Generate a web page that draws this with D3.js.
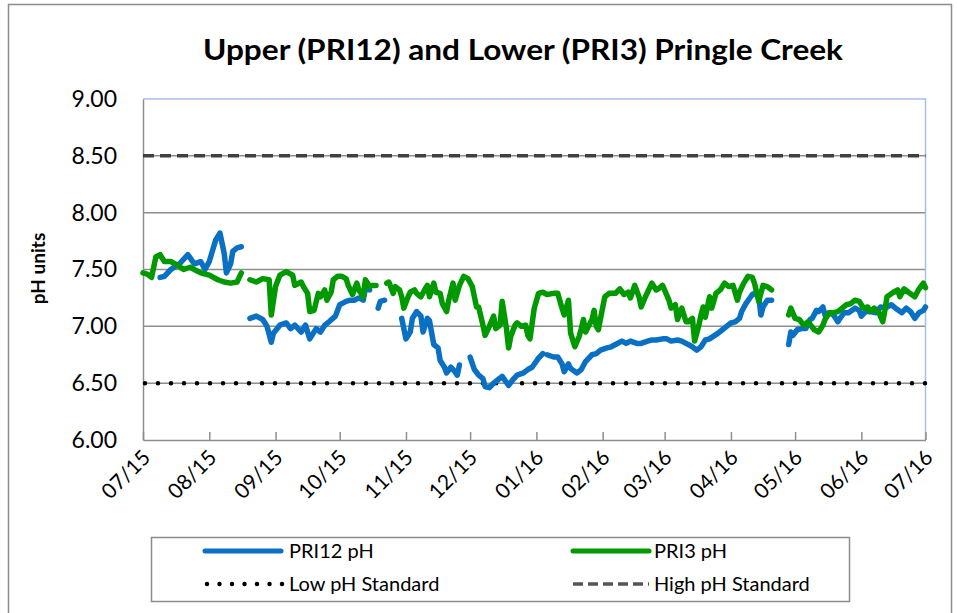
<!DOCTYPE html>
<html>
<head>
<meta charset="utf-8">
<script src="https://cdn.jsdelivr.net/npm/d3@7"></script>
<style>
  html, body { margin: 0; padding: 0; background: #fff; }
  svg { display: block; }
  text { font-family: Lato, "Open Sans", sans-serif; fill: #000; }
</style>
</head>
<body>
<svg id="chart" width="957" height="613"></svg>
<script>
// Daily pH readings, Upper (PRI12) and Lower (PRI3) Pringle Creek, Jul 2015 - Jul 2016.
// null marks a break in the record.
const pri12Dates = [
  "2015-07-09","2015-07-11","2015-07-14","2015-07-18","2015-07-22","2015-07-25","2015-07-28","2015-07-30",
  "2015-08-01","2015-08-04","2015-08-06","2015-08-08","2015-08-09","2015-08-11","2015-08-12","2015-08-14","2015-08-16",
  "2015-08-18",
  "2015-08-20","2015-08-23","2015-08-26","2015-08-28","2015-08-30","2015-08-31",
  "2015-09-03","2015-09-06","2015-09-08","2015-09-10","2015-09-13","2015-09-15","2015-09-17","2015-09-20",
  "2015-09-22","2015-09-24","2015-09-26","2015-09-29",
  "2015-10-01","2015-10-02","2015-10-04","2015-10-06","2015-10-08","2015-10-10","2015-10-12","2015-10-13","2015-10-15",
  "2015-10-17",
  "2015-10-19","2015-10-20","2015-10-22",
  "2015-10-24",
  "2015-10-30","2015-11-01","2015-11-03","2015-11-04","2015-11-06","2015-11-08","2015-11-09","2015-11-11","2015-11-12",
  "2015-11-14","2015-11-16","2015-11-17","2015-11-19","2015-11-20","2015-11-22","2015-11-24","2015-11-25","2015-11-26",
  "2015-11-28",
  "2015-12-01","2015-12-03","2015-12-05","2015-12-07","2015-12-08","2015-12-10","2015-12-12","2015-12-14","2015-12-16",
  "2015-12-19","2015-12-21","2015-12-23","2015-12-26","2015-12-28","2015-12-30","2016-01-02","2016-01-04",
  "2016-01-05",
  "2016-01-06","2016-01-09","2016-01-11","2016-01-13","2016-01-14","2016-01-16","2016-01-17","2016-01-20","2016-01-22",
  "2016-01-24","2016-01-27","2016-01-29","2016-01-31",
  "2016-02-03","2016-02-05","2016-02-07","2016-02-10","2016-02-12","2016-02-14","2016-02-17","2016-02-19","2016-02-22",
  "2016-02-24","2016-02-26","2016-02-29",
  "2016-03-02","2016-03-04","2016-03-07","2016-03-09","2016-03-11","2016-03-14","2016-03-16","2016-03-18","2016-03-20",
  "2016-03-22","2016-03-26","2016-03-28","2016-03-30",
  "2016-04-01","2016-04-03","2016-04-05","2016-04-06","2016-04-08","2016-04-11","2016-04-12","2016-04-14","2016-04-15",
  "2016-04-16","2016-04-18","2016-04-20",
  "2016-04-22",
  "2016-04-28","2016-04-29","2016-04-30",
  "2016-05-02","2016-05-04","2016-05-06","2016-05-08","2016-05-09","2016-05-11","2016-05-12","2016-05-14","2016-05-15",
  "2016-05-17","2016-05-19","2016-05-21","2016-05-22","2016-05-24","2016-05-26","2016-05-29","2016-05-31",
  "2016-06-01","2016-06-03","2016-06-05","2016-06-08","2016-06-10","2016-06-12","2016-06-15","2016-06-17","2016-06-20",
  "2016-06-22","2016-06-24","2016-06-26","2016-06-28","2016-06-30","2016-07-01"
];
const pri12Values = [
  7.43, 7.44, 7.50, 7.55, 7.63, 7.55, 7.57, 7.50,
  7.57, 7.76, 7.82, 7.64, 7.47, 7.55, 7.66, 7.69, 7.70,
  null,
  7.07, 7.09, 7.06, 7.00, 6.86, 6.94,
  7.01, 7.03, 6.98, 7.01, 6.95, 7.01, 6.89, 6.98,
  6.95, 7.01, 7.04, 7.09,
  7.19, 7.20, 7.22, 7.23, 7.23, 7.25, 7.23, 7.33, 7.32,
  null,
  7.16, 7.22, 7.23,
  null,
  7.07, 6.89, 6.95, 7.07, 7.13, 7.09, 6.95, 7.07, 7.05,
  6.84, 6.81, 6.70, 6.64, 6.59, 6.64, 6.60, 6.57, 6.66,
  null,
  6.73, 6.62, 6.57, 6.54, 6.47, 6.46, 6.50, 6.53, 6.56,
  6.48, 6.53, 6.57, 6.59, 6.62, 6.64, 6.72, 6.76,
  null,
  6.75, 6.73, 6.73, 6.67, 6.60, 6.67, 6.63, 6.59, 6.62,
  6.69, 6.75, 6.76, 6.79,
  6.81, 6.82, 6.84, 6.87, 6.85, 6.87, 6.85, 6.85, 6.87,
  6.88, 6.88, 6.89,
  6.89, 6.87, 6.88, 6.87, 6.85, 6.82, 6.79, 6.82, 6.88,
  6.89, 6.94, 6.97, 7.00,
  7.03, 7.04, 7.07, 7.13, 7.20, 7.28, 7.29, 7.26, 7.10,
  7.17, 7.23, 7.23,
  null,
  6.84, 6.95, 6.92,
  6.97, 6.98, 6.98, 7.06, 7.07, 7.14, 7.13, 7.17, 7.10,
  7.12, 7.10, 7.04, 7.07, 7.12, 7.12, 7.16, 7.14,
  7.09, 7.13, 7.13, 7.12, 7.17, 7.16, 7.19, 7.16, 7.12,
  7.16, 7.13, 7.07, 7.12, 7.14, 7.17
];

const pri3Dates = [
  "2015-07-01","2015-07-03","2015-07-05","2015-07-07","2015-07-09","2015-07-11","2015-07-14","2015-07-16","2015-07-20",
  "2015-07-23","2015-07-28","2015-08-01","2015-08-05","2015-08-08","2015-08-11","2015-08-14","2015-08-16",
  "2015-08-18",
  "2015-08-20","2015-08-23","2015-08-26","2015-08-29","2015-08-30",
  "2015-09-01","2015-09-03","2015-09-06","2015-09-09","2015-09-10","2015-09-13","2015-09-14","2015-09-16","2015-09-17",
  "2015-09-19","2015-09-21","2015-09-22","2015-09-24","2015-09-25","2015-09-27","2015-09-28","2015-09-30",
  "2015-10-02","2015-10-04","2015-10-05","2015-10-07","2015-10-09","2015-10-10","2015-10-12","2015-10-13","2015-10-15",
  "2015-10-16","2015-10-18",
  "2015-10-19",
  "2015-10-23","2015-10-24","2015-10-26","2015-10-27","2015-10-29","2015-10-30","2015-10-31",
  "2015-11-02","2015-11-03","2015-11-05","2015-11-06","2015-11-08","2015-11-10","2015-11-11","2015-11-12","2015-11-14",
  "2015-11-15","2015-11-17","2015-11-18","2015-11-20","2015-11-21","2015-11-23","2015-11-24","2015-11-26","2015-11-28",
  "2015-11-30",
  "2015-12-02","2015-12-04","2015-12-05","2015-12-07","2015-12-08","2015-12-10","2015-12-12","2015-12-13","2015-12-15",
  "2015-12-16","2015-12-18","2015-12-19","2015-12-20","2015-12-22","2015-12-23","2015-12-25","2015-12-27","2015-12-28",
  "2015-12-29","2015-12-31",
  "2016-01-02","2016-01-04","2016-01-06","2016-01-09","2016-01-11","2016-01-13","2016-01-14","2016-01-16","2016-01-17",
  "2016-01-19","2016-01-21","2016-01-22","2016-01-23","2016-01-24","2016-01-27","2016-01-28","2016-01-29","2016-01-30",
  "2016-01-31",
  "2016-02-02","2016-02-04","2016-02-07","2016-02-09","2016-02-11","2016-02-13","2016-02-14","2016-02-16","2016-02-18",
  "2016-02-19","2016-02-21","2016-02-22","2016-02-24","2016-02-26","2016-02-27","2016-02-29",
  "2016-03-03","2016-03-04","2016-03-06","2016-03-07","2016-03-09","2016-03-11","2016-03-12","2016-03-14","2016-03-15",
  "2016-03-17","2016-03-18","2016-03-19","2016-03-20","2016-03-22","2016-03-23","2016-03-25","2016-03-27","2016-03-29",
  "2016-03-31",
  "2016-04-02","2016-04-04","2016-04-05","2016-04-07","2016-04-09","2016-04-11","2016-04-12","2016-04-14","2016-04-16",
  "2016-04-18","2016-04-20",
  "2016-04-22",
  "2016-04-28","2016-04-29",
  "2016-05-01","2016-05-03","2016-05-05","2016-05-07","2016-05-10","2016-05-12","2016-05-14","2016-05-15","2016-05-17",
  "2016-05-19","2016-05-21","2016-05-23","2016-05-25","2016-05-27","2016-05-29","2016-05-31",
  "2016-06-02","2016-06-04","2016-06-05","2016-06-07","2016-06-09","2016-06-11","2016-06-12","2016-06-13","2016-06-16",
  "2016-06-18","2016-06-19","2016-06-21","2016-06-23","2016-06-26","2016-06-28","2016-06-30","2016-07-01"
];
const pri3Values = [
  7.47, 7.46, 7.43, 7.61, 7.63, 7.57, 7.57, 7.55, 7.50,
  7.52, 7.47, 7.45, 7.41, 7.39, 7.38, 7.39, 7.47,
  null,
  7.41, 7.39, 7.42, 7.41, 7.10,
  7.35, 7.45, 7.48, 7.45, 7.36, 7.39, 7.35, 7.29, 7.13,
  7.14, 7.29, 7.26, 7.32, 7.23, 7.30, 7.41, 7.44,
  7.44, 7.42, 7.36, 7.28, 7.38, 7.32, 7.26, 7.41, 7.35,
  7.36, 7.36,
  null,
  7.38, 7.39, 7.29, 7.35, 7.32, 7.26, 7.16,
  7.26, 7.30, 7.32, 7.29, 7.26, 7.33, 7.36, 7.26, 7.38,
  7.30, 7.29, 7.20, 7.13, 7.23, 7.38, 7.23, 7.36, 7.44,
  7.42,
  7.35, 7.17, 7.17, 7.01, 6.92, 7.00, 7.09, 6.98, 7.01,
  7.22, 6.98, 6.81, 6.91, 7.01, 7.03, 7.00, 7.01, 6.92,
  6.89, 7.16,
  7.29, 7.30, 7.28, 7.29, 7.29, 7.16, 7.10, 7.23, 6.94,
  6.82, 6.91, 6.98, 7.06, 6.95, 7.06, 7.14, 7.00, 6.97,
  7.07,
  7.26, 7.29, 7.29, 7.33, 7.28, 7.30, 7.25, 7.36, 7.26,
  7.17, 7.26, 7.30, 7.38, 7.32, 7.33, 7.36,
  7.23, 7.16, 7.19, 7.06, 7.16, 7.04, 7.04, 7.07, 6.87,
  7.01, 7.10, 7.17, 7.08, 7.26, 7.16, 7.29, 7.32, 7.38,
  7.35,
  7.36, 7.23, 7.30, 7.38, 7.44, 7.43, 7.38, 7.22, 7.36,
  7.35, 7.32,
  null,
  7.10, 7.16,
  7.07, 7.06, 7.01, 7.04, 6.97, 6.95, 7.01, 7.06, 7.12,
  7.12, 7.13, 7.16, 7.19, 7.20, 7.23, 7.22,
  7.16, 7.17, 7.13, 7.16, 7.13, 7.04, 7.14, 7.26, 7.30,
  7.32, 7.26, 7.33, 7.30, 7.26, 7.33, 7.38, 7.34
];

// Water-quality standards (pH units)
const lowStandard = 6.5;
const highStandard = 8.5;

// Axis settings
const yTicks = [6.0, 6.5, 7.0, 7.5, 8.0, 8.5, 9.0];
const xStart = "2015-07-01";
const xEnd = "2016-07-01";

const titleText = "Upper (PRI12) and Lower (PRI3) Pringle Creek";
const yLabel = "pH units";
const seriesNames = ["PRI12 pH", "PRI3 pH", "Low pH Standard", "High pH Standard"];

const parse = d3.timeParse("%Y-%m-%d");
const toSeries = (dates, values) => dates.map((d, i) => ({ date: parse(d), value: values[i] }));
const pri12 = toSeries(pri12Dates, pri12Values);
const pri3 = toSeries(pri3Dates, pri3Values);

const svg = d3.select("#chart");
const plot = { left: 143, right: 925.5, top: 99, bottom: 440 };

const x = d3.scaleTime().domain([parse(xStart), parse(xEnd)]).range([plot.left, plot.right]);
const y = d3.scaleLinear().domain([6, 9]).range([plot.bottom, plot.top]);

const blue = "#0a70c4";
const green = "#009a00";

// Outer chart frame
svg.append("rect")
  .attr("x", 8.5).attr("y", 4.5).attr("width", 943).attr("height", 640)
  .attr("fill", "#fff").attr("stroke", "#8c8c8c").attr("stroke-width", 1.5);

// Title
svg.append("text")
  .attr("x", 523).attr("y", 60)
  .attr("text-anchor", "middle")
  .attr("textLength", 640).attr("lengthAdjust", "spacingAndGlyphs")
  .style("font-size", "29px").style("font-weight", "bold")
  .text(titleText);

// Horizontal gridlines
svg.append("g").selectAll("line")
  .data(yTicks.filter(v => v > 6 && v < 9))
  .join("line")
  .attr("x1", plot.left).attr("x2", plot.right)
  .attr("y1", d => y(d)).attr("y2", d => y(d))
  .attr("stroke", "#8e8e8e").attr("stroke-width", 1.5);

// Plot-area border (top and right)
svg.append("path")
  .attr("d", `M${plot.left},${y(9)}H${plot.right}V${plot.bottom}`)
  .attr("fill", "none").attr("stroke", "#a6c0e6").attr("stroke-width", 1.5);

// Y axis
const yAxis = d3.axisLeft(y).tickValues(yTicks).tickFormat(d3.format(".2f")).tickSize(0).tickPadding(26);
const yG = svg.append("g").attr("transform", `translate(${plot.left},0)`).call(yAxis);
yG.select(".domain").attr("stroke", "#8e8e8e").attr("stroke-width", 1.5);
yG.selectAll("text").style("font-size", "23px").style("font-family", "Lato, sans-serif").attr("fill", "#000");

svg.append("text")
  .attr("transform", `translate(45,${(plot.top + plot.bottom) / 2 - 1}) rotate(-90)`)
  .attr("text-anchor", "middle")
  .style("font-size", "19px").style("font-weight", "bold")
  .text(yLabel);

// X axis (monthly ticks, inward)
const xAxis = d3.axisBottom(x).ticks(d3.timeMonth.every(1)).tickFormat(d3.timeFormat("%m/%y")).tickSizeInner(-8).tickSizeOuter(0);
const xG = svg.append("g").attr("transform", `translate(0,${plot.bottom})`).call(xAxis);
xG.select(".domain").attr("stroke", "#8e8e8e").attr("stroke-width", 1.5);
xG.selectAll(".tick line").attr("stroke", "#8e8e8e").attr("stroke-width", 1.5);
xG.selectAll(".tick text")
  .style("font-size", "21px").style("font-family", "Lato, sans-serif").attr("fill", "#000")
  .attr("text-anchor", "end")
  .attr("dy", null)
  .attr("transform", "translate(8,19) rotate(-45)")
  .attr("y", 0).attr("x", 0);

// Standards
svg.append("line")
  .attr("x1", plot.left).attr("x2", plot.right)
  .attr("y1", y(highStandard)).attr("y2", y(highStandard))
  .attr("stroke", "#404040").attr("stroke-width", 3.5)
  .attr("stroke-dasharray", "11 6");

svg.append("line")
  .attr("x1", plot.left + 2).attr("x2", plot.right)
  .attr("y1", y(lowStandard)).attr("y2", y(lowStandard))
  .attr("stroke", "#000").attr("stroke-width", 4.5)
  .attr("stroke-linecap", "round")
  .attr("stroke-dasharray", "0 13");

// Series lines: PRI12 first, PRI3 drawn above it
const line = d3.line()
  .defined(d => d.value !== null)
  .x(d => x(d.date)).y(d => y(d.value));

svg.append("path").datum(pri12)
  .attr("d", line).attr("fill", "none")
  .attr("stroke", blue).attr("stroke-width", 5.5)
  .attr("stroke-linejoin", "round").attr("stroke-linecap", "round");

svg.append("path").datum(pri3)
  .attr("d", line).attr("fill", "none")
  .attr("stroke", green).attr("stroke-width", 5.5)
  .attr("stroke-linejoin", "round").attr("stroke-linecap", "round");

// Legend
const legend = svg.append("g");
legend.append("rect")
  .attr("x", 151.5).attr("y", 537.5).attr("width", 698).attr("height", 64)
  .attr("fill", "#fff").attr("stroke", "#8c8c8c").attr("stroke-width", 1.5);

const legendItems = [
  { name: seriesNames[0], x: 205, y: 551, stroke: blue, width: 5, dash: null, cap: "round" },
  { name: seriesNames[1], x: 573, y: 551, stroke: green, width: 5, dash: null, cap: "round" },
  { name: seriesNames[2], x: 207, y: 584, stroke: "#000", width: 4.5, dash: "0 12.5", cap: "round" },
  { name: seriesNames[3], x: 573, y: 584, stroke: "#555", width: 3.5, dash: "10 5", cap: "butt" }
];
const li = legend.selectAll("g.item").data(legendItems).join("g").attr("class", "item");
li.append("line")
  .attr("x1", d => d.x).attr("x2", d => d.x + 76)
  .attr("y1", d => d.y).attr("y2", d => d.y)
  .attr("stroke", d => d.stroke).attr("stroke-width", d => d.width)
  .attr("stroke-dasharray", d => d.dash)
  .attr("stroke-linecap", d => d.cap);
li.append("text")
  .attr("x", d => (d.x < 400 ? 289 : 654)).attr("y", d => d.y + 7)
  .style("font-size", "20px")
  .text(d => d.name);
</script>
</body>
</html>
